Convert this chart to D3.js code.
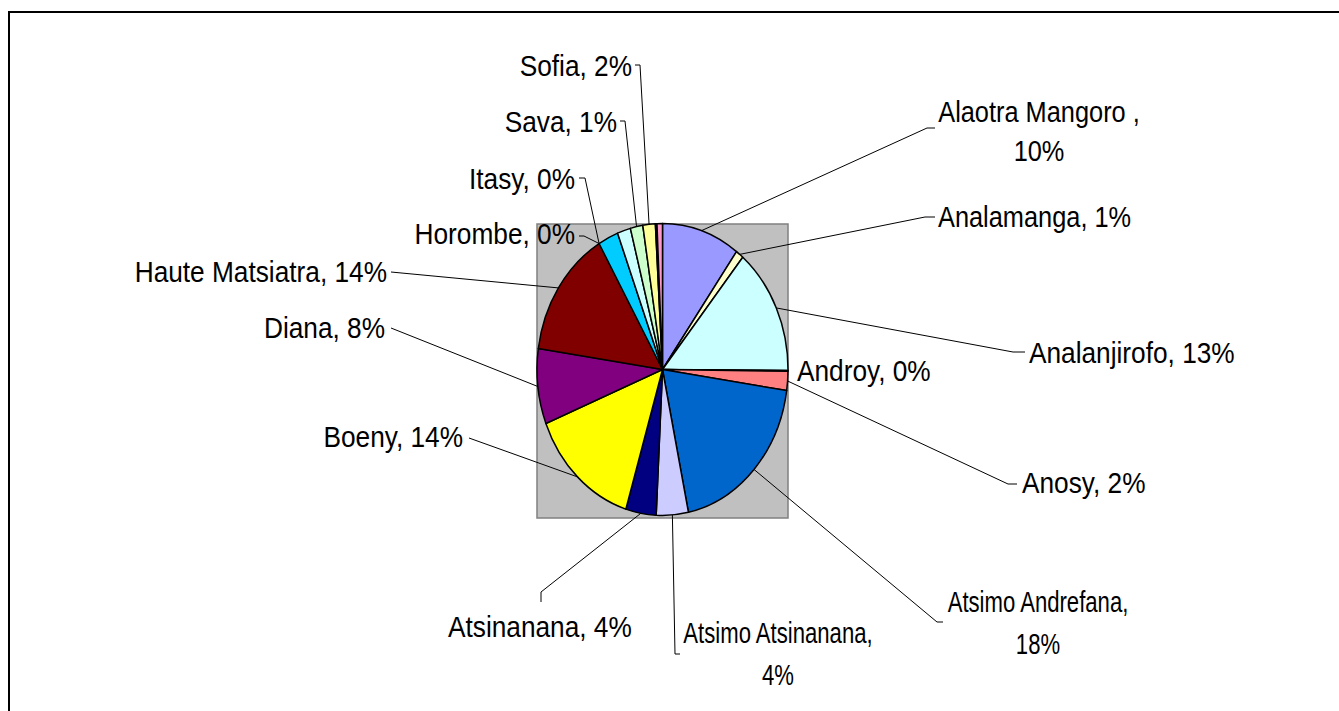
<!DOCTYPE html>
<html>
<head>
<meta charset="utf-8">
<script src="https://cdn.jsdelivr.net/npm/d3@7"></script>
<style>
  html, body { margin: 0; padding: 0; background: #fff; }
  svg { display: block; }
</style>
</head>
<body>
<div id="chart"></div>
<script>
// regions in worksheet order (clockwise from 12 o'clock)
var regions = ['Alaotra Mangoro', 'Analamanga', 'Analanjirofo', 'Androy', 'Anosy',
    'Atsimo Andrefana', 'Atsimo Atsinanana', 'Atsinanana', 'Boeny', 'Diana',
    'Haute Matsiatra', 'Horombe', 'Itasy', 'Melaky', 'Menabe', 'Sava', 'Sofia',
    'Vakinankaratra', 'Vatovavy Fitovinany'];
var shares = [10.0, 1.0, 14.0, 0.1, 2.1, 19.3, 4.1, 3.9, 14.2, 8.3,
    14.2, 0, 0, 2.6, 1.7, 1.6, 1.6, 0.2, 0.7];
// percentages as printed on the data labels ('' = no label shown)
var printed = ['10%', '1%', '13%', '0%', '2%', '18%', '4%', '4%', '14%', '8%',
    '14%', '0%', '0%', '', '', '1%', '2%', '', ''];
var fills = ['#9999FF', '#FFFFCC', '#CCFFFF', '#660066', '#FF8080', '#0066CC', '#CCCCFF',
    '#000080', '#FFFF00', '#800080', '#800000', '#008080', '#0000FF', '#00CCFF',
    '#CCFFFF', '#CCFFCC', '#FFFF99', '#99CCFF', '#FF99CC'];

// hand placed label boxes (x, baseline, anchor, wrap, leader start points)
var labelLayout = {
    'Alaotra Mangoro':   { x: 1039, y: 122, anchor: 'middle', gap: 39, sq: 0.86, lead: [[935, 128], [927, 128]] },
    'Analamanga':        { x: 938, y: 227, anchor: 'start', sq: 0.86, lead: [[935, 217], [925, 217]] },
    'Analanjirofo':      { x: 1029, y: 363, anchor: 'start', lead: [[1025, 352], [1013, 352]] },
    'Androy':            { x: 797, y: 381, anchor: 'start', lead: null },
    'Anosy':             { x: 1022, y: 493, anchor: 'start', lead: [[1017, 484], [1008, 484]] },
    'Atsimo Andrefana':  { x: 1038, y: 612, anchor: 'middle', gap: 42, sq: 0.75, lead: [[943, 622], [937, 622]] },
    'Atsimo Atsinanana': { x: 778, y: 643, anchor: 'middle', gap: 42, sq: 0.75, lead: [[680, 654], [675, 654]] },
    'Atsinanana':        { x: 448, y: 637, anchor: 'start', lead: [[541, 602], [541, 592]] },
    'Boeny':             { x: 463, y: 447, anchor: 'end', lead: [[469, 438]] },
    'Diana':             { x: 385, y: 338, anchor: 'end', lead: [[391, 328]] },
    'Haute Matsiatra':   { x: 387, y: 282, anchor: 'end', lead: [[391, 272]] },
    'Horombe':           { x: 575, y: 244, anchor: 'end', lead: [[579, 236], [584, 236]] },
    'Itasy':             { x: 575, y: 189, anchor: 'end', lead: [[579, 178], [585, 178]] },
    'Sava':              { x: 617, y: 132, anchor: 'end', lead: [[620, 121], [625, 121]] },
    'Sofia':             { x: 632, y: 76, anchor: 'end', lead: [[635, 65], [640, 65]] }
};

var width = 1339, height = 711;
var plot = { x: 537, y: 224, w: 251, h: 294 };
var cx = 662.5, cy = 369.5, rx = 125.5, ry = 146;
var fontSize = 29.5, squeeze = 0.89;

var svg = d3.select('#chart').append('svg')
    .attr('width', width)
    .attr('height', height);

// chart area border (runs off the right and bottom edge)
svg.append('rect')
    .attr('x', 9).attr('y', 12)
    .attr('width', 1400).attr('height', 800)
    .attr('fill', '#fff')
    .attr('stroke', '#000')
    .attr('stroke-width', 2);

// plot area
svg.append('rect')
    .attr('x', plot.x).attr('y', plot.y)
    .attr('width', plot.w).attr('height', plot.h)
    .attr('fill', '#C0C0C0')
    .attr('stroke', '#808080')
    .attr('stroke-width', 1.5);

var data = regions.map(function(r, i) {
    return { name: r, value: shares[i], pct: printed[i], fill: fills[i] };
});

var pie = d3.pie().sort(null).value(function(d) { return d.value; });
var arcs = pie(data);
var arc = d3.arc().innerRadius(0).outerRadius(100);

// the pie is stretched into an ellipse
var pieGroup = svg.append('g')
    .attr('transform', `translate(${cx}, ${cy}) scale(${rx / 100}, ${ry / 100})`);

pieGroup.selectAll('path')
    .data(arcs.filter(function(a) { return a.value > 0; }))
    .enter()
    .append('path')
    .attr('d', arc)
    .attr('fill', function(a) { return a.data.fill; })
    .attr('stroke', '#000')
    .attr('stroke-width', 1.5)
    .attr('stroke-linejoin', 'round')
    .attr('vector-effect', 'non-scaling-stroke');

function edgePoint(a) {
    var m = (a.startAngle + a.endAngle) / 2;
    return [cx + rx * Math.sin(m), cy - ry * Math.cos(m)];
}

var labelled = arcs.filter(function(a) { return a.data.pct !== ''; });

// leader lines
var line = d3.line();
svg.append('g').selectAll('path')
    .data(labelled.filter(function(a) { return labelLayout[a.data.name].lead; }))
    .enter()
    .append('path')
    .attr('d', function(a) {
        var pts = labelLayout[a.data.name].lead.concat([edgePoint(a)]);
        return line(pts);
    })
    .attr('fill', 'none')
    .attr('stroke', '#000')
    .attr('stroke-width', 1);

// data labels
var labels = svg.append('g').selectAll('text')
    .data(labelled)
    .enter()
    .append('text')
    .attr('transform', function(a) {
        var L = labelLayout[a.data.name];
        return `translate(${L.x}, ${L.y}) scale(${L.sq || squeeze}, 1)`;
    })
    .attr('text-anchor', function(a) { return labelLayout[a.data.name].anchor; })
    .style('font-family', '"Liberation Sans", Arial, sans-serif')
    .style('font-size', fontSize + 'px')
    .style('fill', '#000');

labels.each(function(a) {
    var L = labelLayout[a.data.name];
    var t = d3.select(this);
    if (L.gap) {
        var first = a.data.name === 'Alaotra Mangoro' ? a.data.name + ' ,' : a.data.name + ',';
        t.append('tspan').attr('x', 0).attr('y', 0).text(first);
        t.append('tspan').attr('x', 0).attr('y', L.gap).text(a.data.pct);
    } else {
        t.text(a.data.name + ', ' + a.data.pct);
    }
});
</script>
</body>
</html>
